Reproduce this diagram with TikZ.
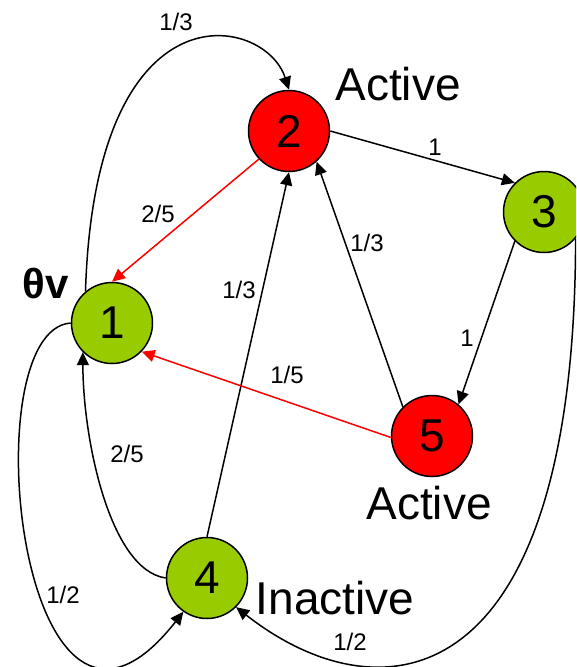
\documentclass[tikz,border=0pt]{standalone}
\usepackage{fontspec}
\setmainfont{Liberation Sans}
\usetikzlibrary{arrows.meta}
\definecolor{actred}{HTML}{FF0000}
\definecolor{inactgreen}{HTML}{99CC00}

\begin{document}
\begin{tikzpicture}[x=1pt,y=-1pt,
    vtx/.style={circle,draw,line width=1.5pt,minimum size=81pt,inner sep=0pt,
      font=\fontsize{46}{50}\selectfont},
    act/.style={vtx,fill=actred},
    inact/.style={vtx,fill=inactgreen},
    edge/.style={line width=1.5pt,-{Triangle[length=13pt,width=12pt]}},
    hot/.style={edge,actred},
    wt/.style={font=\fontsize{24}{26}\selectfont},
    tag/.style={font=\fontsize{46}{50}\selectfont}]
  \clip (0,0) rectangle (576,667);
  % vertices
  \node[inact] (n1) at (112,323) {1};
  \node[act]   (n2) at (289,131) {2};
  \node[inact] (n3) at (544,212) {3};
  \node[inact] (n4) at (207,578) {4};
  \node[act]   (n5) at (432,436) {5};
  % states
  \node[tag] (s2) at (398,84) {Active};
  \node[tag] (s5) at (429,503) {Active};
  \node[tag] (s4) at (335,598) {Inactive};
  \node[font=\fontsize{42}{46}\selectfont\bfseries] (th) at (46,283) {θv};
  % edges
  \draw[edge] (n1.130) .. controls (95,-20) and (265,15) .. (n2.north);
  \draw[edge] (n1.west) .. controls (-30,330) and (20,820) .. (n4.235);
  \draw[edge] (n4.west) .. controls (110,570) and (83,440) .. (n1.225);
  \draw[edge] (n4.north) -- (n2.south);
  \draw[edge] (n5.135) -- (n2.-48);
  \draw[edge] (n2.east) -- (n3.135);
  \draw[edge] (n3.225) -- (n5.50);
  \draw[edge] (n3.-40) .. controls (575,700) and (380,720) .. (n4.-45);
  \draw[hot] (n2.223) -- (n1.north);
  \draw[hot] (n5.182) -- (n1.-44);
  % weights
  \node[wt] (w12) at (176,22) {1/3};
  \node[wt] (w23) at (435,147) {1};
  \node[wt] (w52) at (367,243) {1/3};
  \node[wt] (w21) at (158,214) {2/5};
  \node[wt] (w42) at (239,290) {1/3};
  \node[wt] (w51) at (287,375) {1/5};
  \node[wt] (w35) at (467,338) {1};
  \node[wt] (w41) at (127,454) {2/5};
  \node[wt] (w14) at (63,595) {1/2};
  \node[wt] (w34) at (350,642) {1/2};
\end{tikzpicture}
\end{document}
